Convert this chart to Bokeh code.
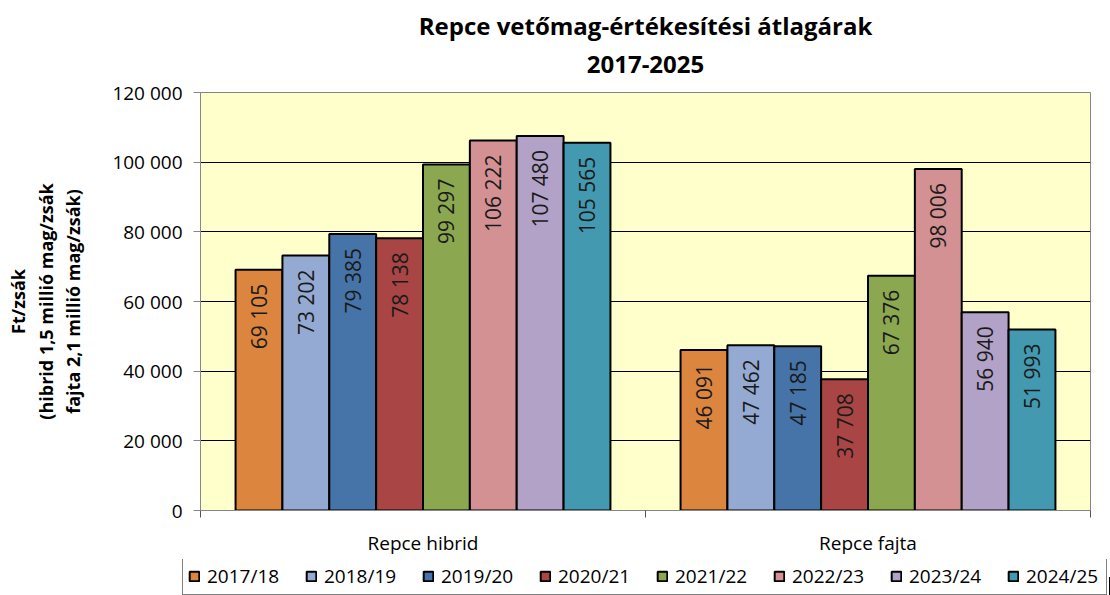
from bokeh.plotting import figure
from bokeh.layouts import column
from bokeh.models import (Range1d, FixedTicker, CustomJSTickFormatter,
                          ColumnDataSource, Legend, LegendItem, Title)
from bokeh.core.properties import value
from bokeh.embed import file_html
from bokeh.resources import INLINE

categories = ["Repce hibrid", "Repce fajta"]
seasons = ["2017/18", "2018/19", "2019/20", "2020/21", "2021/22", "2022/23", "2023/24", "2024/25"]
hibrid = [69105, 73202, 79385, 78138, 99297, 106222, 107480, 105565]
fajta = [46091, 47462, 47185, 37708, 67376, 98006, 56940, 51993]
colors = ["#DC853F", "#95AAD3", "#4674A8", "#A94544", "#8BA74F", "#D39193", "#B3A2C7", "#4399B0"]
y_ticks = [0, 20000, 40000, 60000, 80000, 100000, 120000]
title_lines = ["Repce vetőmag-értékesítési átlagárak", "2017-2025"]
y_label = "Ft/zsák\n(hibrid 1,5 millió mag/zsák\nfajta 2,1 millió mag/zsák)"

FONT = "Open Sans"
series_by_cat = [hibrid, fajta]
n = len(seasons)
bw = 0.1053

p = figure(width=1110, height=559, output_backend="svg", toolbar_location=None,
           x_range=Range1d(0, len(categories)), y_range=Range1d(0, 120000),
           min_border_left=200, min_border_right=20, min_border_top=92, min_border_bottom=49)
p.title.visible = False

sub = Title(text=title_lines[1], align="center", text_font=FONT, text_font_style="bold",
            text_font_size="24px", text_color="#000000", standoff=40, offset=0)
main = Title(text=title_lines[0], align="center", text_font=FONT, text_font_style="bold",
             text_font_size="24px", text_color="#000000", standoff=-17, offset=0)
p.add_layout(sub, "above")
p.add_layout(main, "above")

p.background_fill_color = "#FFFFCC"
p.border_fill_color = "#FFFFFF"
p.outline_line_color = "#868686"
p.outline_line_width = 1

for j, s in enumerate(seasons):
    xs = [i + 0.5 + (j - (n - 1) / 2) * bw for i in range(len(categories))]
    vals = [series_by_cat[i][j] for i in range(len(categories))]
    labels = [f"{v:,}".replace(",", " ") for v in vals]
    src = ColumnDataSource(dict(x=xs, top=vals, label=labels))
    p.vbar(x="x", top="top", width=bw, bottom=0, source=src,
           fill_color=colors[j], line_color="#000000", line_width=2)
    p.text(x="x", y="top", text="label", source=src, angle=1.5708,
           text_align="right", text_baseline="middle", y_offset=14,
           text_font=value(FONT), text_font_size="21px", text_color="#1a1a1a")

# y axis
p.yaxis.ticker = FixedTicker(ticks=y_ticks)
p.yaxis.formatter = CustomJSTickFormatter(code="""
return tick.toFixed(0).replace(/\\B(?=(\\d{3})+(?!\\d))/g, " ");
""")
p.yaxis.major_label_text_font = FONT
p.yaxis.major_label_text_font_size = "19px"
p.yaxis.major_label_text_color = "#000000"
p.yaxis.axis_line_color = "#868686"
p.yaxis.major_tick_line_color = "#868686"
p.yaxis.major_tick_out = 7
p.yaxis.major_tick_in = 0
p.yaxis.minor_tick_line_color = None
p.yaxis.major_label_standoff = 11
p.yaxis.axis_label = y_label
p.yaxis.axis_label_text_font = FONT
p.yaxis.axis_label_text_font_style = "bold"
p.yaxis.axis_label_text_font_size = "18px"
p.yaxis.axis_label_text_color = "#000000"
p.yaxis.axis_label_text_line_height = 1.15
p.yaxis.axis_label_standoff = 24

# x axis
centers = [i + 0.5 for i in range(len(categories))]
bounds = [float(i) for i in range(len(categories) + 1)]
p.xaxis.ticker = FixedTicker(ticks=centers, minor_ticks=bounds)
p.xaxis.major_label_overrides = {c: cat for c, cat in zip(centers, categories)}
p.xaxis.major_tick_line_color = None
p.xaxis.major_tick_out = 0
p.xaxis.major_tick_in = 0
p.xaxis.minor_tick_line_color = "#555555"
p.xaxis.minor_tick_out = 7
p.xaxis.minor_tick_in = 0
p.xaxis.axis_line_color = "#868686"
p.xaxis.major_label_text_font = FONT
p.xaxis.major_label_text_font_size = "19px"
p.xaxis.major_label_text_color = "#000000"
p.xaxis.major_label_standoff = 12

p.xgrid.grid_line_color = None
p.ygrid.ticker = FixedTicker(ticks=y_ticks)
p.ygrid.grid_line_color = "#000000"
p.ygrid.grid_line_width = 1

# legend strip below the chart
lf = figure(width=1110, height=36, output_backend="svg", toolbar_location=None,
            x_range=Range1d(0, 1), y_range=Range1d(0, 1),
            x_axis_type=None, y_axis_type=None,
            min_border_left=0, min_border_right=0, min_border_top=0, min_border_bottom=0)
lf.outline_line_color = None
lf.background_fill_color = "#FFFFFF"
lf.border_fill_color = "#FFFFFF"
lf.xgrid.grid_line_color = None
lf.ygrid.grid_line_color = None
items = []
for j, s in enumerate(seasons):
    dummy = lf.vbar(x=[3], top=[0.5], width=0.1, fill_color=colors[j],
                    line_color="#000000", line_width=2)
    items.append(LegendItem(label=s, renderers=[dummy]))
legend = Legend(items=items, orientation="horizontal", location=(182, 0),
                glyph_width=12, glyph_height=12, label_standoff=7, label_width=75,
                spacing=23, padding=5, margin=0,
                label_text_font=FONT, label_text_font_size="19px", label_text_color="#000000",
                border_line_color="#000000", border_line_width=1,
                background_fill_color="#FFFFFF", background_fill_alpha=1.0)
lf.add_layout(legend, "center")

layout = column(p, column(lf, spacing=0), spacing=0)
open("out.html", "w").write(file_html(layout, INLINE))
